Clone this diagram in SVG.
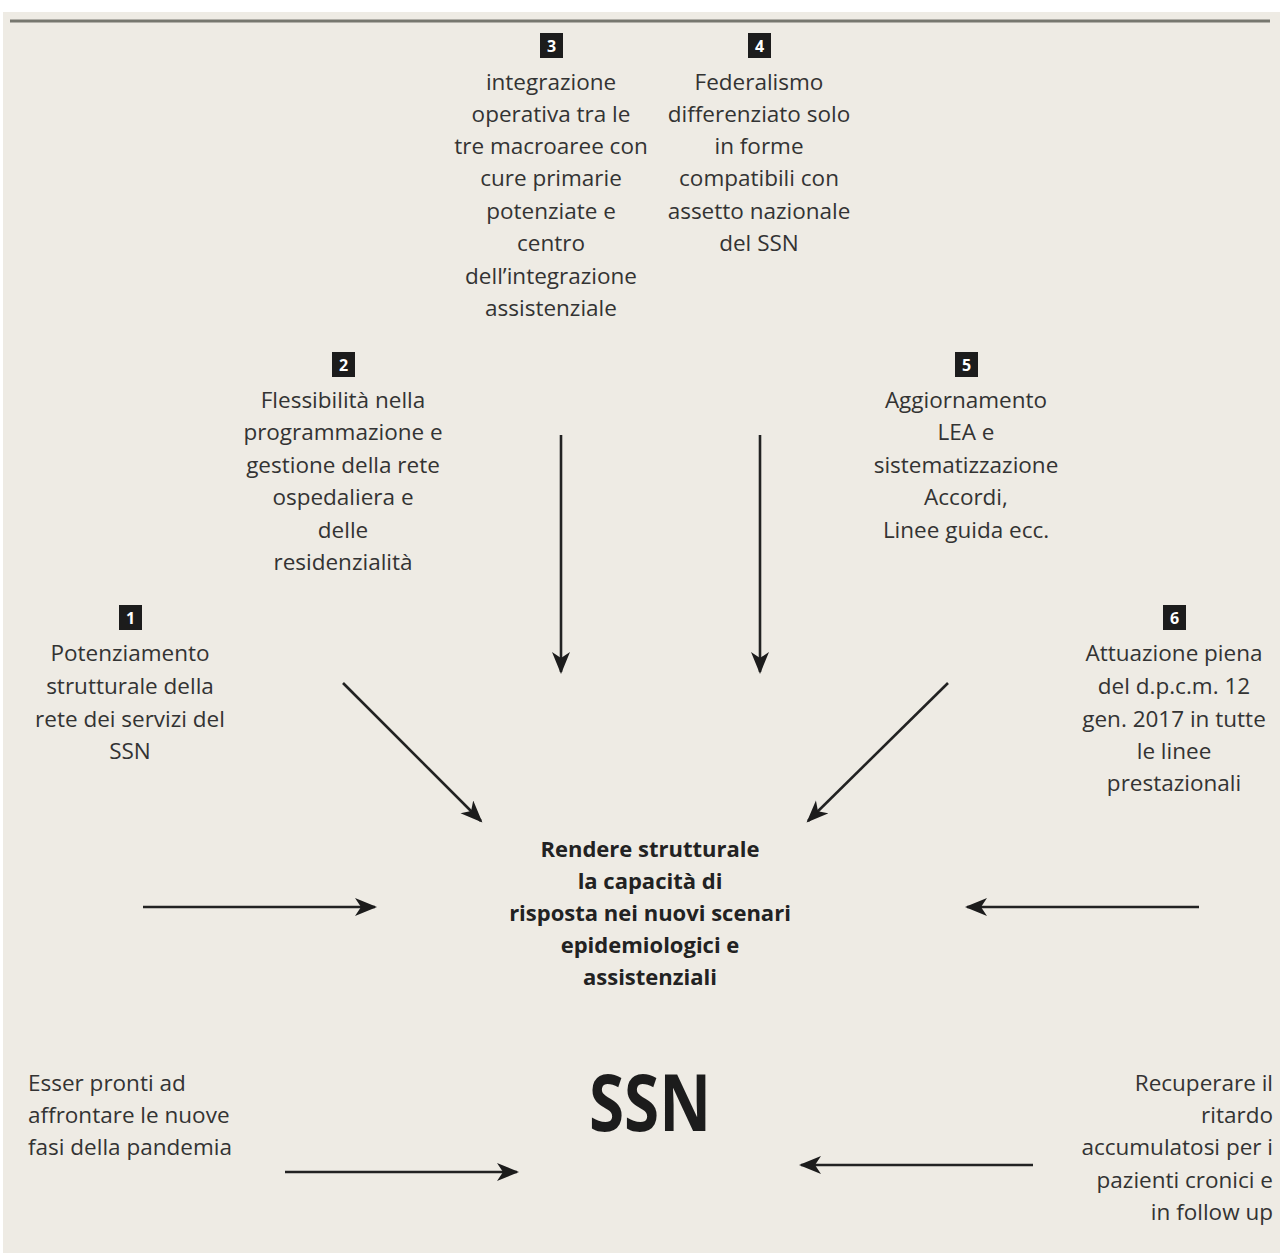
<svg xmlns="http://www.w3.org/2000/svg" width="1280" height="1253" viewBox="0 0 1280 1253">
<style>
.t{font-family:"Open Sans","Noto Sans","Liberation Sans",sans-serif;font-size:22.5px;fill:#333;text-anchor:middle}
.b{font-weight:bold;fill:#222;font-size:22px}
.l{text-anchor:start}
.r{text-anchor:end}
.num{font-family:"Open Sans","Liberation Sans",sans-serif;font-size:16px;font-weight:bold;fill:#fff;text-anchor:middle}
.box{fill:#1c1c1c}
.c{stroke:#222;stroke-width:2.6;fill:none;marker-end:url(#ah)}
</style>
<defs>
<marker id="ah" markerUnits="userSpaceOnUse" markerWidth="24" markerHeight="20" refX="20" refY="9" orient="auto">
<path d="M0,0 L22,9 L0,18 L6,9 Z" fill="#1c1c1c"/>
</marker>
</defs>
<rect width="1280" height="1253" fill="#fff"/>
<rect x="3" y="12" width="1277" height="1241" fill="#EEEBE4"/>
<line x1="10" y1="21" x2="1270" y2="21" stroke="#77776f" stroke-width="3"/>

<g id="n3">
<rect class="box" x="540" y="33" width="23" height="25"/><text class="num" x="551.5" y="51.5">3</text>
<text class="t" x="551" y="90">integrazione</text>
<text class="t" x="551" y="122">operativa tra le</text>
<text class="t" x="551" y="154">tre macroaree con</text>
<text class="t" x="551" y="186">cure primarie</text>
<text class="t" x="551" y="219">potenziate e</text>
<text class="t" x="551" y="251">centro</text>
<text class="t" x="551" y="284">dell’integrazione</text>
<text class="t" x="551" y="316">assistenziale</text>
</g>
<g id="n4">
<rect class="box" x="748" y="33" width="23" height="25"/><text class="num" x="759.5" y="51.5">4</text>
<text class="t" x="759" y="90">Federalismo</text>
<text class="t" x="759" y="122">differenziato solo</text>
<text class="t" x="759" y="154">in forme</text>
<text class="t" x="759" y="186">compatibili con</text>
<text class="t" x="759" y="219">assetto nazionale</text>
<text class="t" x="759" y="251">del SSN</text>
</g>
<g id="n2">
<rect class="box" x="332" y="352" width="23" height="25"/><text class="num" x="343.5" y="370.5">2</text>
<text class="t" x="343" y="408">Flessibilità nella</text>
<text class="t" x="343" y="440">programmazione e</text>
<text class="t" x="343" y="473">gestione della rete</text>
<text class="t" x="343" y="505">ospedaliera e</text>
<text class="t" x="343" y="538">delle</text>
<text class="t" x="343" y="570">residenzialità</text>
</g>
<g id="n5">
<rect class="box" x="955" y="352" width="23" height="25"/><text class="num" x="966.5" y="370.5">5</text>
<text class="t" x="966" y="408">Aggiornamento</text>
<text class="t" x="966" y="440">LEA e</text>
<text class="t" x="966" y="473">sistematizzazione</text>
<text class="t" x="966" y="505">Accordi,</text>
<text class="t" x="966" y="538">Linee guida ecc.</text>
</g>
<g id="n1">
<rect class="box" x="119" y="605" width="23" height="25"/><text class="num" x="130.5" y="623.5">1</text>
<text class="t" x="130" y="661">Potenziamento</text>
<text class="t" x="130" y="694">strutturale della</text>
<text class="t" x="130" y="727">rete dei servizi del</text>
<text class="t" x="130" y="759">SSN</text>
</g>
<g id="n6">
<rect class="box" x="1163" y="605" width="23" height="25"/><text class="num" x="1174.5" y="623.5">6</text>
<text class="t" x="1174" y="661">Attuazione piena</text>
<text class="t" x="1174" y="694">del d.p.c.m. 12</text>
<text class="t" x="1174" y="727">gen. 2017 in tutte</text>
<text class="t" x="1174" y="759">le linee</text>
<text class="t" x="1174" y="791">prestazionali</text>
</g>
<g id="center">
<text class="t b" x="650" y="857">Rendere strutturale</text>
<text class="t b" x="650" y="889">la capacità di</text>
<text class="t b" x="650" y="921">risposta nei nuovi scenari</text>
<text class="t b" x="650" y="953">epidemiologici e</text>
<text class="t b" x="650" y="985">assistenziali</text>
</g>
<g id="ssn">
<text class="t b" x="650" y="1131" textLength="122" lengthAdjust="spacingAndGlyphs" style="font-size:78px;fill:#1c1c1c">SSN</text>
</g>
<g id="left">
<text class="t l" x="28" y="1091">Esser pronti ad</text>
<text class="t l" x="28" y="1123">affrontare le nuove</text>
<text class="t l" x="28" y="1155">fasi della pandemia</text>
</g>
<g id="right">
<text class="t r" x="1273" y="1091">Recuperare il</text>
<text class="t r" x="1273" y="1123">ritardo</text>
<text class="t r" x="1273" y="1155">accumulatosi per i</text>
<text class="t r" x="1273" y="1188">pazienti cronici e</text>
<text class="t r" x="1273" y="1220">in follow up</text>
</g>
<g id="connectors">
<line class="c" x1="561" y1="435" x2="561" y2="672"/>
<line class="c" x1="760" y1="435" x2="760" y2="672"/>
<line class="c" x1="343" y1="683" x2="481" y2="821"/>
<line class="c" x1="948" y1="683" x2="808" y2="821"/>
<line class="c" x1="143" y1="907" x2="375" y2="907"/>
<line class="c" x1="1199" y1="907" x2="967" y2="907"/>
<line class="c" x1="285" y1="1172" x2="517" y2="1172"/>
<line class="c" x1="1033" y1="1165" x2="801" y2="1165"/>
</g>
</svg>
